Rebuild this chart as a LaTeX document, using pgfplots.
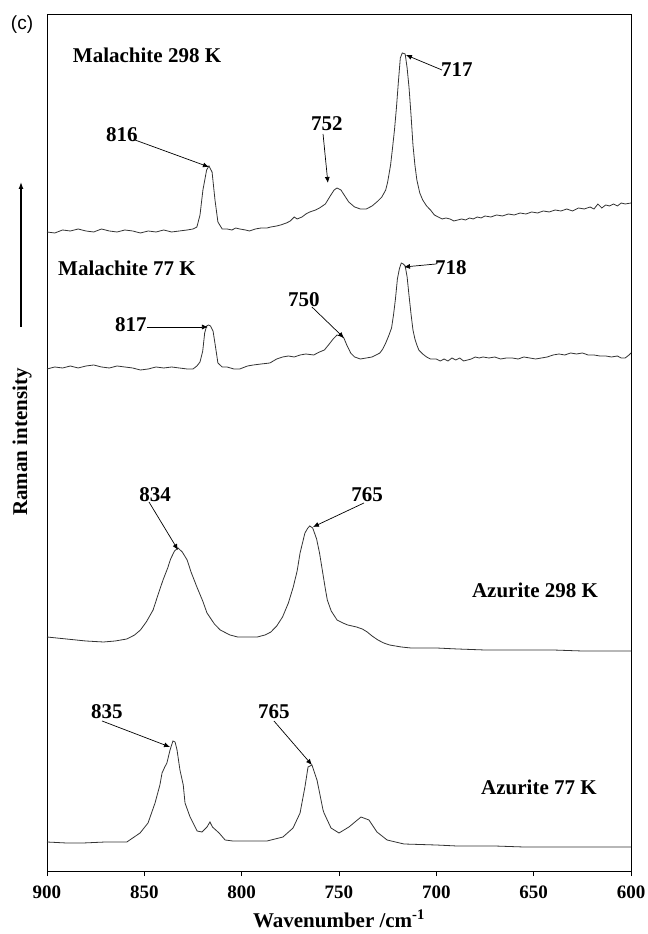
\documentclass[border=0pt]{standalone}
\usepackage{fontspec}
\setmainfont{Liberation Serif}
\newfontfamily\arialfont{Liberation Sans}
\usepackage{pgfplots}
\pgfplotsset{compat=1.18}
\usetikzlibrary{arrows.meta}

% Raman spectra: malachite and azurite at 298 K and 77 K (offset traces)
\pgfplotstableread{
w I
900 639
896 638
892 641
888 640
884 642
880 640
876 639
872 642
868 640
864 639
860 641
856 640
852 638
848 640
844 639
840 641
836 639
832 640
828 641
825 642
823 644
821.4 656
819.9 681
818 701
816.8 705
815.2 699
813.7 671
812.2 649
810 642
807.5 642
805 641
803 643
801 642
798 641
796 640
793 642
790 643
787 643
785 644
782 645
780 646
777 648
775 650
773 654
771.5 652
769 654
767 657
765 659
762 661
760 663
757 667
754.5 675
752.5 681
751 683
749 681
747 675
745 669
742 664
739 662
736 662
733 665
730 670
728 674
726 681
725 689
723.5 706
722.5 723
721.5 741
720.5 763
719.5 789
718.5 813
717.5 818
716 817
715 803
714 783
713 756
712 726
711 706
710 691
708.5 678
707 671
705 665
703 661
701 656
699 654
697 652
695 653
693 652
691 650
689 651
687 652
685 651
683 653
681 652
679 654
677 653
675 655
672 654
669 656
666 655
663 657
660 656
657 658
654 657
651 659
648 658
645 660
642 659
639 661
636 660
633 662
630 660
627 663
624 662
621 664
619 662
617 667
615 663
613 666
611 665
609 667
607 665
605 668
603 667
600 668
}\malaRT

\pgfplotstableread{
w I
900 502
896 504
892 503
888 505
884 503
880 505
876 506
872 504
868 503
864 505
860 504
856 503
852 501
848 502
844 504
840 503
836 504
832 503
828 502
825 502
823 505
821.4 509
820 520
819 538
818 545
817 546
816 545
814.7 540
813.5 525
812.2 508
810 504
807.5 504
804 502
801 502
797 505
794 506
790 507
785.5 508
782 512
779 514
776 515
773 514
770 516
767 517
763 516
760 519
757.5 521
755 527
753 532
751 536
749 535
747.5 533
746 526
744 518
742 514
739 512
736 513
733 514
731 516
729 518
727.5 522
726 528
724.5 535
723 543
722 556
721 572
720 592
719 602
718 608
717 607
716 605
715 594
714 575
713 557
712 541
711 532
710 526
709 521
707 517
705 514
703 512
700 512
698 510
696 512
694 510
692 513
690 511
688 513
686 510
684 511
682 512
680 514
678 513
676 514
673 513
670 514
667 512
664 513
661 513
658 512
655 514
652 513
649 512
646 513
643 514
640 516
637 517
634 516
631 518
628 517
625 518
622 516
619 516
616 515
613 515
610 514
607 515
605 513
603 513
601 516
600 518
}\malaLT

\pgfplotstableread{
w I
900 234
890 232
880 230
871 229
865 230
859 232
855 236
852 241
849 249
845.5 261
843 276
840.4 291
838 303
836.5 312
834.5 320
832.7 323
830.5 319
828 311
826 299
823 284
820 270
817.8 258
814 247
811 241
806 236
802 234
796 234
792 234
788 236
785 239
782 245
779 254
776 268
773.5 284
771.5 300
770 318
768.5 330
767.5 338
766 343
765 345
763.5 343
761.5 332
760 318
758.5 300
757 282
756 271
754 260
751 251
748 248
745.5 246
741 244
738 242
735.5 239
733 235
730 231
727 228
724 226
718 224
713 223
700 223
689 222
675 221
655 221
640 221
625 220
610 220
600 220
}\azurRT

\pgfplotstableread{
w I
900 29
890 28
881.5 28
870 29
859 29
852.2 38
848.1 48
844.5 68
842 86
840.9 98
839.5 104
838.4 108
836.8 121
835.3 130
834.2 129
833.2 121
831.7 101
830 86
829.1 68
826.5 54
822.9 40
820.4 39
817.8 44
816.3 49
815 44
811.6 38
808.5 31
804.5 30
795 30
787 30
778.8 34
773.6 43
770 58
767.5 84
765.9 104
763.9 106
761.3 91
758.2 61
757.7 58
754.1 43
750 38
744.9 44
738.7 54
734.6 51
730.5 39
725.3 31
716.6 27
700 26
689.4 25
670 25
655 24
630 24
600 24
}\azurLT

\newcommand{\lab}{\bfseries\fontsize{21bp}{21bp}\selectfont}

\begin{document}
\begin{tikzpicture}[
  annot/.style={-{Latex[length=6bp,width=5bp]}, black, line width=0.7bp},
  spec/.style={black!80, line width=0.8bp, mark=none},
]
\useasboundingbox (0,0) rectangle (648bp,934bp);
\begin{axis}[
  at={(47bp,63bp)}, anchor=south west,
  scale only axis, width=584bp, height=857bp,
  xmin=600, xmax=900, ymin=0, ymax=857,
  x dir=reverse,
  xtick={600,650,...,900},
  xtick pos=bottom,
  ytick=\empty,
  tick align=outside,
  major tick length=5bp,
  tick style={black, line width=0.8bp},
  axis line style={black, line width=0.8bp},
  /pgf/number format/assume math mode=true,
  xticklabel style={font=\bfseries\fontsize{19bp}{19bp}\selectfont, yshift=-6bp},
]
\addplot[spec] table[x=w, y=I] {\malaRT};
\addplot[spec] table[x=w, y=I] {\malaLT};
\addplot[spec] table[x=w, y=I] {\azurRT};
\addplot[spec] table[x=w, y=I] {\azurLT};

% right frame edge is lighter
\draw[gray!60, line width=1bp] (rel axis cs:1,0) -- (rel axis cs:1,1);

% sample labels
\node[font=\lab] at (axis cs:848.6,816) {Malachite 298 K};
\node[font=\lab] at (axis cs:858.9,603) {Malachite 77 K};
\node[font=\lab] at (axis cs:649.3,281) {Azurite 298 K};
\node[font=\lab] at (axis cs:647.3,84) {Azurite 77 K};

% band assignments, malachite 298 K
\node[font=\lab] at (axis cs:861.5,736) {816};
\draw[annot] (axis cs:854.8,731) -- (axis cs:816.8,704);
\node[font=\lab] at (axis cs:756.2,747) {752};
\draw[annot] (axis cs:758.2,737) -- (axis cs:755.7,688);
\node[font=\lab] at (axis cs:689.4,801) {717};
\draw[annot] (axis cs:697.1,801) -- (axis cs:715.6,816);

% malachite 77 K
\node[font=\lab] at (axis cs:856.9,546) {817};
\draw[annot] (axis cs:848.6,544) -- (axis cs:817.3,544);
\node[font=\lab] at (axis cs:768,571) {750};
\draw[annot] (axis cs:763.9,564) -- (axis cs:747.4,533);
\node[font=\lab] at (axis cs:692.5,603) {718};
\draw[annot] (axis cs:700.2,607) -- (axis cs:716.6,604);

% azurite 298 K
\node[font=\lab] at (axis cs:844.5,376) {834};
\draw[annot] (axis cs:847.6,369) -- (axis cs:832.7,321);
\node[font=\lab] at (axis cs:735.6,376) {765};
\draw[annot] (axis cs:737.2,368) -- (axis cs:763.4,344);

% azurite 77 K
\node[font=\lab] at (axis cs:869.2,159) {835};
\draw[annot] (axis cs:871.7,150) -- (axis cs:836.8,124);
\node[font=\lab] at (axis cs:783.4,159) {765};
\draw[annot] (axis cs:783.4,150) -- (axis cs:763.9,106);
\end{axis}

% axis titles and panel tag
\node[font=\lab] at (339bp,15bp) {Wavenumber /cm\textsuperscript{-1}};
\node[font=\lab, rotate=90] at (22bp,492bp) {Raman intensity};
\draw[-{Latex[length=7bp,width=5bp]}, line width=1.2bp] (21bp,607bp) -- (21bp,752bp);
\node[font=\arialfont\fontsize{19bp}{19bp}\selectfont] at (22bp,909bp) {(c)};
\end{tikzpicture}
\end{document}
